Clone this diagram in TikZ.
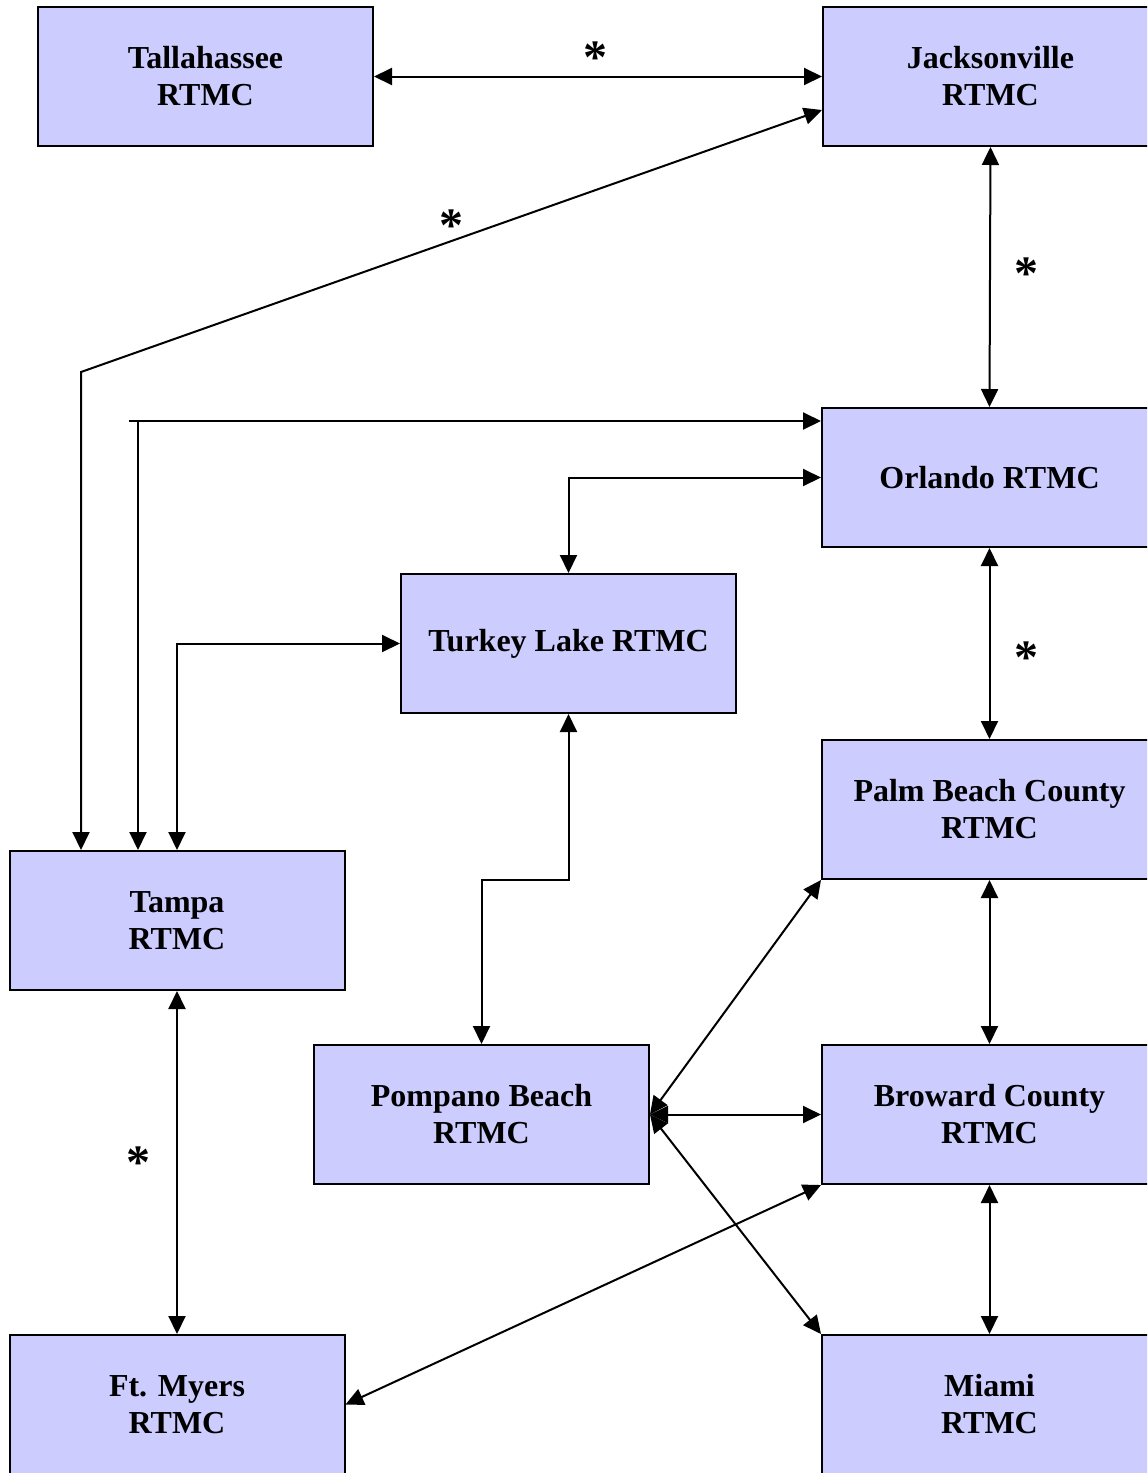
\documentclass[tikz,border=0pt]{standalone}
\usepackage{fontspec}
\setmainfont{Liberation Serif}
\usetikzlibrary{arrows.meta,calc}
\definecolor{boxfill}{RGB}{204,204,255}
\begin{document}
\begin{tikzpicture}[x=0.5pt,y=-0.5pt,
  box/.style={draw=black,line width=1pt,fill=boxfill,minimum width=167.5pt,minimum height=69.5pt,inner sep=0pt,align=center,
    font=\fontsize{16pt}{18.5pt}\selectfont\bfseries},
  tip/.tip={Triangle[length=9pt,width=8.5pt]},
  conn/.style={line width=1pt,{tip}-{tip}},
  connend/.style={line width=1pt,-{tip}},
  star/.style={inner sep=0pt,font=\fontsize{24pt}{24pt}\selectfont\bfseries}]
\useasboundingbox (0,0) rectangle (1147,1473);
\begin{scope}
\clip (0,0) rectangle (1147,1473);
\node[box] (tal) at (205.5,76.5) {Tallahassee\\RTMC};
\node[box] (jax) at (990.5,76.5) {Jacksonville\\RTMC};
\node[box] (orl) at (989.5,477.5) {Orlando RTMC};
\node[box] (tur) at (568.5,643.5) {Turkey Lake RTMC};
\node[box] (pbc) at (989.5,809.5) {Palm Beach County\\RTMC};
\node[box] (tam) at (177,920.5) {Tampa\\RTMC};
\node[box] (pom) at (481.5,1114.5) {Pompano Beach\\RTMC};
\node[box] (bro) at (989.5,1114.5) {Broward County\\RTMC};
\node[box] (ftm) at (177,1404.5) {Ft. Myers\\RTMC};
\node[box] (mia) at (989.5,1404.5) {Miami\\RTMC};

\draw[conn] (tal.east) -- (jax.west);
\coordinate (b1) at (81,372);
\draw[conn] (tam.north -| b1) -- (b1) -- ($(jax.west)+(0,33.5)$);
\draw[conn] (jax.south) -- (orl.north);
\coordinate (c1) at (129,421);
\coordinate (c2) at (138,421);
\draw[connend] (c1) -- (orl.west |- c1);
\draw[connend] (c2) -- (tam.north -| c2);
\draw[conn] (orl.west) -| (tur.north);
\draw[conn] (tam.north) |- (tur.west);
\draw[conn] (tur.south) -- ++(0,166) -| (pom.north);
\draw[conn] (orl.south) -- (pbc.north);
\draw[conn] (pbc.south) -- (bro.north);
\draw[conn] (bro.south) -- (mia.north);
\draw[conn] (tam.south) -- (ftm.north);
\draw[conn] (pom.east) -- (pbc.south west);
\draw[conn] (pom.east) -- (bro.west);
\draw[conn] (pom.east) -- (mia.north west);
\draw[conn] (ftm.east) -- (bro.south west);

\node[star] (s1) at (595,58) {*};
\node[star] (s2) at (451,226) {*};
\node[star] (s3) at (1026,274) {*};
\node[star] (s4) at (1026,658) {*};
\node[star] (s5) at (138,1163) {*};
\end{scope}
\end{tikzpicture}
\end{document}
